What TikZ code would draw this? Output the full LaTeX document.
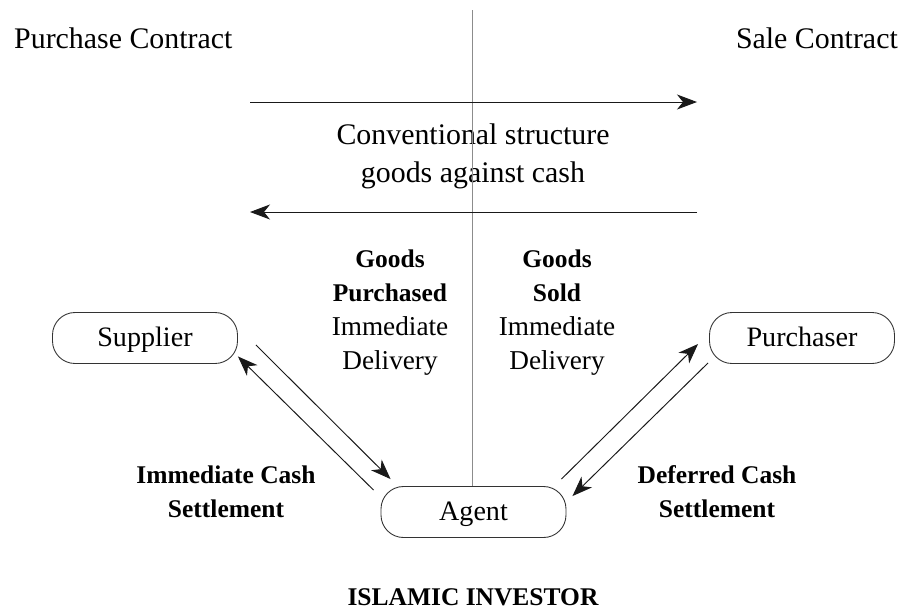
\documentclass[tikz,border=0pt]{standalone}
\usepackage{fontspec}
\setmainfont{Liberation Serif}
\usetikzlibrary{arrows.meta}
\newcommand{\heavy}[1]{{\fontsize{14.5}{19.3}\selectfont\bfseries #1}}
\begin{document}
\begin{tikzpicture}[
  flow/.style={draw=black!90, line width=0.55pt, -{Stealth[length=4mm, width=3mm, inset=1.2mm]}},
  party/.style={draw=black!80, line width=0.5pt, rounded corners=0.45cm,
    minimum width=3.7cm, minimum height=1.02cm, text height=10.6pt, text depth=0.7pt,
    font=\fontsize{16}{19.3}\selectfont},
  toplabel/.style={font=\fontsize{17}{21.6}\selectfont, align=center},
  note/.style={font=\fontsize{15.5}{19.3}\selectfont, align=center}]
  \useasboundingbox (0,0) rectangle (18.24,-12.2);
  % the two contracts and the conventional cash/goods swap across the axis
  \node[toplabel, anchor=west] (purchase) at (0.16,-0.76) {Purchase Contract};
  \node[toplabel, anchor=east] (sale) at (18.08,-0.76) {Sale Contract};
  \coordinate (axistop) at (9.44,-0.2);
  \coordinate (outL) at (5.0,-2.04);
  \coordinate (outR) at (13.94,-2.04);
  \coordinate (backR) at (13.94,-4.24);
  \coordinate (backL) at (5.0,-4.24);
  \node[toplabel] (conventional) at (9.46,-3.12) {Conventional structure\\goods against cash};
  % parties
  \node[party] (supplier) at (2.9,-6.76) {Supplier};
  \node[party] (purchaser) at (16.04,-6.76) {Purchaser};
  \node[party] (agent) at (9.47,-10.24) {Agent};
  \draw[black!45, line width=0.4pt] (axistop) -- (axistop |- agent.north);
  \draw[flow] (outL) -- (outR);
  \draw[flow] (backR) -- (backL);
  % labels
  \node[note] (bought) at (7.8,-6.25) {\heavy{Goods}\\\heavy{Purchased}\\Immediate\\Delivery};
  \node[note] (sold) at (11.14,-6.25) {\heavy{Goods}\\\heavy{Sold}\\Immediate\\Delivery};
  \node[note] (cashnow) at (4.52,-9.84) {\heavy{Immediate Cash}\\\heavy{Settlement}};
  \node[note] (cashlater) at (14.34,-9.84) {\heavy{Deferred Cash}\\\heavy{Settlement}};
  \node[note] (investor) at (9.46,-11.94) {\heavy{ISLAMIC INVESTOR}};
  % goods and cash legs
  \draw[flow] ([shift={(0.36,-0.14)}]supplier.east) -- ([shift={(0.2,0.14)}]agent.north west);
  \draw[flow] ([shift={(-0.14,-0.08)}]agent.north west) -- ([shift={(0,0.15)}]supplier.south east);
  \draw[flow] ([shift={(-0.1,0.14)}]agent.north east) -- ([shift={(-0.22,-0.12)}]purchaser.west);
  \draw[flow] ([shift={(-0.02,0.02)}]purchaser.south west) -- ([shift={(0.12,-0.2)}]agent.north east);
\end{tikzpicture}
\end{document}
